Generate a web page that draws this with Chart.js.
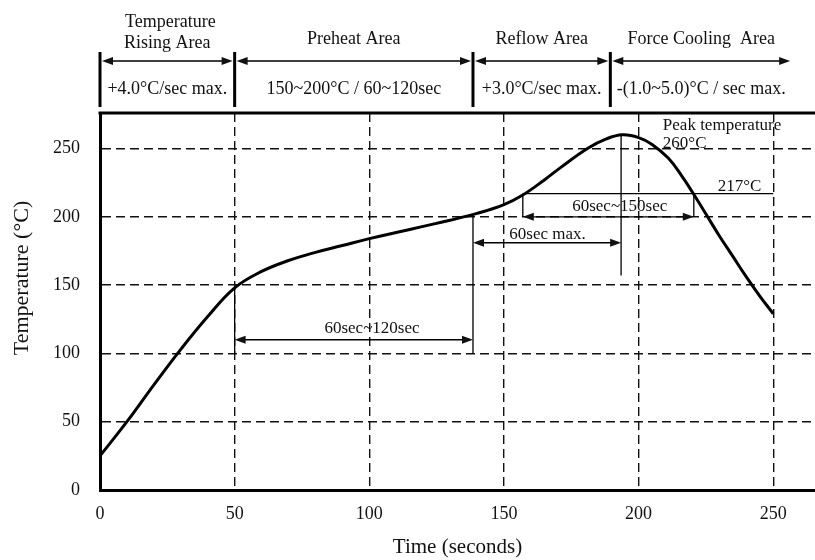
<!DOCTYPE html>
<html>
<head>
<meta charset="utf-8">
<script src="https://cdn.jsdelivr.net/npm/chart.js@4.4.1/dist/chart.umd.min.js"></script>
<style>
  html, body { margin: 0; padding: 0; background: #fff; }
  #wrap { width: 815px; height: 560px; position: relative; }
</style>
</head>
<body>
<div id="wrap"><canvas id="profile"></canvas></div>
<script>
// reflow profile, values
const timeSec = [0, 10, 20, 30, 40, 50, 60, 70, 80, 90, 100, 110, 120, 130, 140, 150, 157, 165, 171, 181, 188, 194, 200, 205, 211, 216, 220, 225, 230, 235, 240, 245, 250];
const tempC = [25, 50, 77, 103, 127, 148, 160, 168, 174, 179, 184, 188.5, 193, 197.5, 202.5, 209, 216, 227, 236, 250, 257, 260, 258, 253, 243, 230, 218, 202, 186, 171, 156, 142, 129];

// zones across the top (seconds)
const zoneEdges = [0, 50, 138.5, 189.5, 257];
const zoneNames = [['Temperature', 'Rising Area'], ['Preheat Area'], ['Reflow Area'], ['Force Cooling  Area']];
const zoneRates = ['+4.0\u00b0C/sec max.', '150~200\u00b0C / 60~120sec', '+3.0\u00b0C/sec max.', '-(1.0~5.0)\u00b0C / sec max.'];

// marker times / temps
const preheatSpan = [50, 138.5];     // 60sec~120sec
const rampSpan = [138.5, 193.5];     // 60sec max.
const aboveLiquidus = [157, 220.5];  // 60sec~150sec
const liquidusTemp = 217;
const peakTime = 193.5;
const peakTemp = 260;

const SERIF = "'Liberation Serif', 'DejaVu Serif', serif";

function arrowHead(ctx, x, y, dir) {
    ctx.beginPath();
    ctx.moveTo(x, y);
    ctx.lineTo(x - dir * 11, y - 4);
    ctx.lineTo(x - dir * 11, y + 4);
    ctx.closePath();
    ctx.fill();
}

function hArrow(ctx, x1, x2, y, lw) {
    ctx.lineWidth = lw;
    ctx.beginPath();
    ctx.moveTo(x1 + 4, y);
    ctx.lineTo(x2 - 4, y);
    ctx.stroke();
    arrowHead(ctx, x1, y, -1);
    arrowHead(ctx, x2, y, 1);
}

function line(ctx, x1, y1, x2, y2, lw) {
    ctx.lineWidth = lw;
    ctx.beginPath();
    ctx.moveTo(x1, y1);
    ctx.lineTo(x2, y2);
    ctx.stroke();
}

const overlay = {
    id: 'overlay',
    afterDraw(chart) {
        const ctx = chart.ctx;
        const xs = chart.scales.x, ys = chart.scales.y;
        const px = v => xs.getPixelForValue(v);
        const py = v => ys.getPixelForValue(v);
        const area = chart.chartArea;

        ctx.save();
        ctx.strokeStyle = '#000';
        ctx.fillStyle = '#111';
        ctx.setLineDash([]);

        // top frame line
        line(ctx, area.left - 1.5, area.top, area.right, area.top, 3);

        // y axis title, sits a bit above the plot centre in the original
        ctx.save();
        ctx.translate(22, 278);
        ctx.rotate(-Math.PI / 2);
        ctx.textAlign = 'center';
        ctx.textBaseline = 'middle';
        ctx.font = '22px ' + SERIF;
        ctx.fillText('Temperature (\u00b0C)', 0, 0);
        ctx.restore();

        // header zones
        ctx.textAlign = 'center';
        ctx.textBaseline = 'middle';
        ctx.font = '18px ' + SERIF;
        for (let i = 0; i < zoneNames.length; i++) {
            const a = px(zoneEdges[i]), b = px(zoneEdges[i + 1]);
            const mid = (a + b) / 2;
            line(ctx, a, 52, a, 107, 3);
            hArrow(ctx, a + 2, b - 2, 61, 1.5);
            const names = zoneNames[i];
            if (names.length === 2) {
                ctx.fillText(names[0], mid + 3, 22);
                ctx.fillText(names[1], mid, 43);
            } else {
                ctx.fillText(names[0], mid, 39);
            }
            ctx.fillText(zoneRates[i], mid, 89);
        }

        // preheat 60~120 sec
        line(ctx, px(preheatSpan[0]), py(148), px(preheatSpan[0]), py(100), 1.3);
        line(ctx, px(preheatSpan[1]), py(202), px(preheatSpan[1]), py(100), 1.3);
        hArrow(ctx, px(preheatSpan[0]), px(preheatSpan[1]), py(110), 1.3);
        ctx.font = '17px ' + SERIF;
        ctx.fillText('60sec~120sec', px(101), py(118));

        // ramp to peak, 60 sec max
        hArrow(ctx, px(rampSpan[0]), px(rampSpan[1]), py(181), 1.3);
        line(ctx, px(peakTime), py(peakTemp), px(peakTime), py(157), 1.3);
        ctx.textAlign = 'left';
        ctx.fillText('60sec max.', px(152), py(187));

        // time above liquidus
        line(ctx, px(aboveLiquidus[0]), py(liquidusTemp), px(250), py(liquidusTemp), 1.3);
        line(ctx, px(aboveLiquidus[0]), py(liquidusTemp), px(aboveLiquidus[0]), py(200), 1.3);
        line(ctx, px(aboveLiquidus[1]), py(liquidusTemp), px(aboveLiquidus[1]), py(200), 1.3);
        hArrow(ctx, px(aboveLiquidus[0]), px(aboveLiquidus[1]), py(200), 1.3);
        ctx.textAlign = 'center';
        ctx.fillText('60sec~150sec', px(193), py(207.5));
        ctx.fillText(liquidusTemp + '\u00b0C', px(237.5), py(222.5));

        // peak label
        ctx.textAlign = 'left';
        ctx.fillText('Peak temperature', px(209), py(267));
        ctx.fillText(peakTemp + '\u00b0C', px(209), py(254));

        ctx.restore();
    }
};

const gridStyle = { color: '#111', lineWidth: 1.4, drawTicks: false };
const borderStyle = { display: true, color: '#000', width: 3, dash: [9, 5] };

new Chart(document.getElementById('profile'), {
    type: 'line',
    data: {
        datasets: [{
            data: timeSec.map((t, i) => ({ x: t, y: tempC[i] })),
            borderColor: '#000',
            borderWidth: 3,
            pointRadius: 0,
            tension: 0.4,
            fill: false
        }]
    },
    options: {
        responsive: true,
        maintainAspectRatio: false,
        animation: false,
        layout: { padding: { top: 113, right: 0, left: 0, bottom: 0 } },
        plugins: { legend: { display: false }, tooltip: { enabled: false } },
        scales: {
            x: {
                type: 'linear',
                min: 0,
                max: 265.5,
                grid: gridStyle,
                border: borderStyle,
                ticks: {
                    stepSize: 50,
                    includeBounds: false,
                    maxRotation: 0,
                    padding: 13,
                    color: '#111',
                    font: { family: SERIF, size: 18 }
                },
                title: {
                    display: true,
                    text: 'Time (seconds)',
                    color: '#111',
                    font: { family: SERIF, size: 21 },
                    padding: { top: 0, bottom: 0 }
                },
                afterFit(scale) { scale.height = 70; }
            },
            y: {
                min: 0,
                max: 276,
                grid: gridStyle,
                border: borderStyle,
                ticks: {
                    stepSize: 50,
                    includeBounds: false,
                    padding: 20,
                    color: '#111',
                    font: { family: SERIF, size: 18 }
                },
                afterFit(scale) { scale.width = 100; }
            }
        }
    },
    plugins: [overlay]
});
</script>
</body>
</html>
